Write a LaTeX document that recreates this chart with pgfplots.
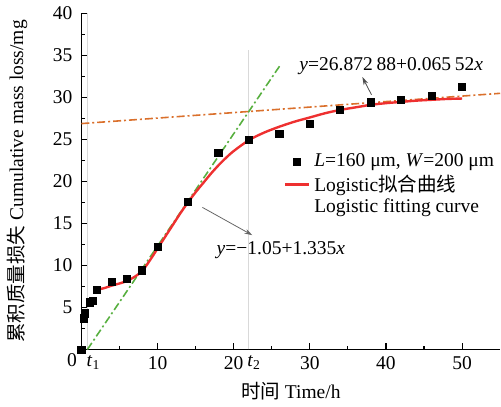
\documentclass[border=0pt]{standalone}
\usepackage{fontspec}
\setmainfont{Liberation Serif}
\newfontfamily\cjk{Noto Sans CJK SC}
\usepackage{pgfplots}
\pgfplotsset{compat=1.18}
\usetikzlibrary{arrows.meta}
\definecolor{fitred}{RGB}{238,48,48}
\definecolor{fitgreen}{RGB}{88,176,64}
\definecolor{fitorange}{RGB}{218,112,44}
\pgfplotsset{
  marklegend/.style={legend image code/.code={\draw[##1] plot coordinates {(6pt,0pt)};}},
  linelegend/.style={legend image code/.code={\draw[##1] (0pt,0pt) -- (12pt,0pt);}},
}
\begin{document}
\begin{tikzpicture}[font=\fontsize{9.8}{11}\selectfont]
\begin{axis}[
  scale only axis,
  width=210.5pt, height=169pt,
  xmin=0, xmax=55, ymin=0, ymax=40,
  axis lines=left,
  axis line style={-, line width=0.7pt},
  tick style={line width=0.6pt, black},
  tick align=inside,
  major tick length=3.5pt,
  minor tick length=2pt,
  xtick={10,20,30,40,50},
  minor xtick={5,15,25,35,45},
  ytick={5,10,...,40},
  minor ytick={2.5,7.5,...,37.5},
  /pgf/number format/assume math mode=true,
  yticklabel style={xshift=-1pt},
  xlabel={{\cjk 时间} Time/h},
  ylabel={{\cjk 累积质量损失} Cumulative mass loss/mg},
  ylabel shift=6pt,
  xlabel shift=-0.5pt,
  clip=false,
  legend style={draw=none, fill=none, at={(0.483,0.595)}, anchor=north west,
    inner sep=0pt, row sep=-1.5pt, font=\fontsize{9.8}{11}\selectfont},
  legend cell align=left,
]
% vertical guide lines at t1 and t2
\addplot[gray!30, line width=0.5pt, forget plot] coordinates {(0.79,0) (0.79,40)};
\addplot[gray!30, line width=0.5pt, forget plot] coordinates {(22,0) (22,35.6)};
% tangent lines
\addplot[fitgreen, line width=0.8pt, dash pattern=on 4pt off 1.5pt on 1pt off 1.5pt, forget plot]
  coordinates {(0.79,0) (26.1,33.8)};
\addplot[fitorange, line width=0.8pt, dash pattern=on 4pt off 1.5pt on 1pt off 1.5pt, forget plot]
  coordinates {(0,26.87) (55,30.47)};
% measured data
\addplot[only marks, mark=square*, mark size=1.8pt, black, marklegend]
  coordinates {(0,0) (0.3,3.7) (0.45,4.3) (1.15,5.6) (1.55,5.8) (2,7.1) (4,8.0)
  (6,8.4) (8,9.4) (10,12.2) (14,17.6) (18,23.35) (22,24.9) (26,25.6) (30,26.8)
  (34,28.5) (38,29.4) (42,29.65) (46,30.2) (50,31.2)};
\addlegendentry{\textit{L}=160 μm, \textit{W}=200 μm}
% logistic fit
\addplot[fitred, line width=1.2pt, smooth, linelegend]
  coordinates {(2,7.1) (3,7.3) (4,7.6) (5,7.85) (6,8.15) (7,8.65) (8,9.35)
  (9,10.6) (10,12.0) (11,13.4) (12,14.8) (13,16.2) (14,17.5) (15,18.7)
  (16,19.8) (17,20.9) (18,21.9) (19,22.8) (20,23.6) (22,24.9) (24,25.8)
  (26,26.5) (28,27.1) (30,27.6) (32,28.1) (34,28.5) (36,28.8) (38,29.1)
  (40,29.3) (42,29.45) (44,29.6) (46,29.7) (48,29.8) (50,29.85)};
\addlegendentry{Logistic{\cjk 拟合曲线}}
\addlegendimage{empty legend}
\addlegendentry{Logistic fitting curve}
% annotations
\draw[-{Stealth[length=4pt,width=2.5pt]}, black!70, line width=0.4pt]
  (axis cs:38.1,30.3) -- (axis cs:36.9,32.4);
\node at (axis cs:40.7,33.7) {\textit{y}=26.872\hspace{0.2em}88+0.065\hspace{0.2em}52\textit{x}};
\draw[-{Stealth[length=4pt,width=2.5pt]}, black!60, line width=0.4pt]
  (axis cs:15.9,16.9) -- (axis cs:22.45,13.6);
\node at (axis cs:26.2,11.8) {\textit{y}=−1.05+1.335\textit{x}};
% special tick labels
\node[anchor=north east, inner sep=2pt] at (axis cs:0,0) {0};
\node[anchor=north, inner sep=3pt] at (axis cs:1.6,0) {\textit{t}\textsubscript{1}};
\node[anchor=north, inner sep=3pt] at (axis cs:22.7,0) {\textit{t}\textsubscript{2}};
\end{axis}
\end{tikzpicture}
\end{document}
